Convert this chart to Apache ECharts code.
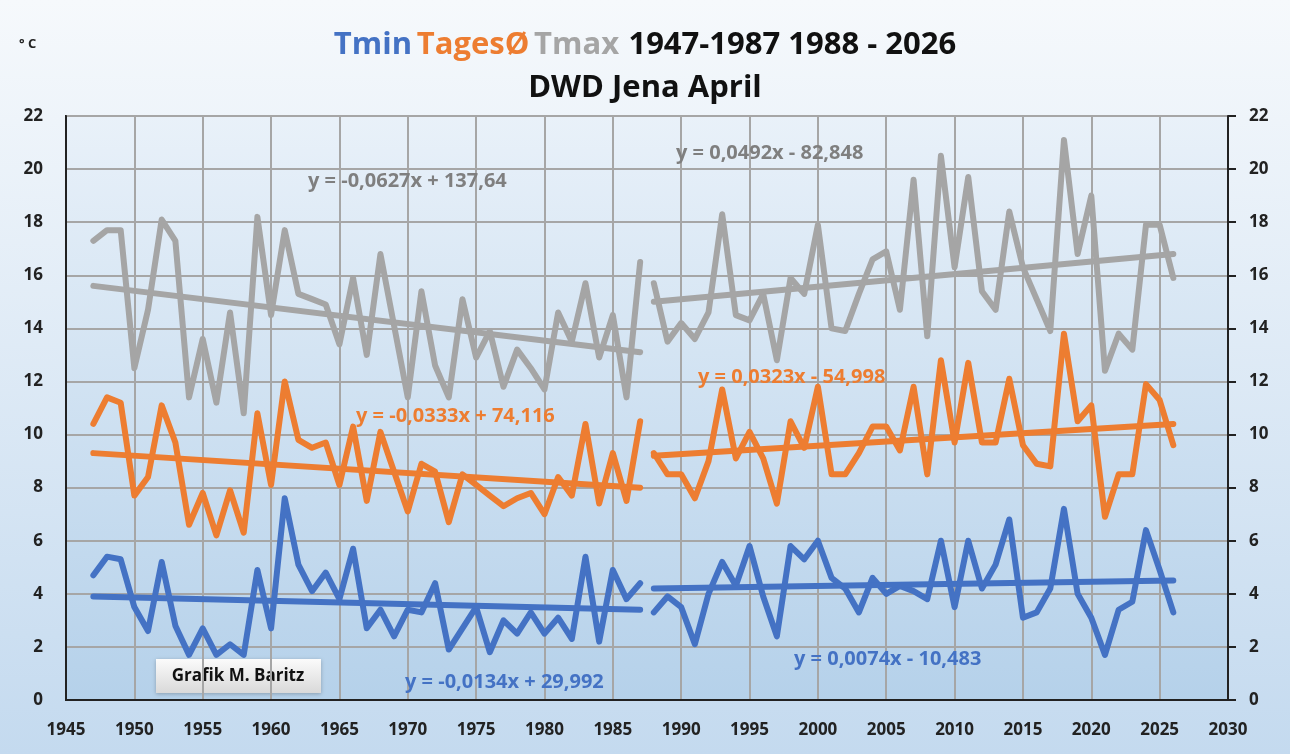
<!DOCTYPE html>
<html>
<head>
<meta charset="utf-8">
<script src="https://cdn.jsdelivr.net/npm/echarts@6/dist/echarts.min.js"></script>
<style>
  html, body { margin: 0; padding: 0; }
  #chart { width: 1290px; height: 754px; }
</style>
</head>
<body>
<div id="chart"></div>
<script>
// first years of both periods
const start1 = 1947;
const start2 = 1988;

// April values, DWD Jena
const tmin1 = [4.7, 5.4, 5.3, 3.5, 2.6, 5.2, 2.8, 1.7, 2.7, 1.7,
  2.1, 1.7, 4.9, 2.7, 7.6, 5.1, 4.1, 4.8, 3.8, 5.7,
  2.7, 3.4, 2.4, 3.4, 3.3, 4.4, 1.9, 2.7, 3.5, 1.8,
  3.0, 2.5, 3.3, 2.5, 3.1, 2.3, 5.4, 2.2, 4.9, 3.8, 4.4];
const tmin2 = [3.3, 3.9, 3.5, 2.1, 4.0, 5.2, 4.3, 5.8, 3.9, 2.4,
  5.8, 5.3, 6.0, 4.6, 4.2, 3.3, 4.6, 4.0, 4.3, 4.1,
  3.8, 6.0, 3.5, 6.0, 4.2, 5.1, 6.8, 3.1, 3.3, 4.2,
  7.2, 4.0, 3.1, 1.7, 3.4, 3.7, 6.4, 4.9, 3.3];
const tavg1 = [10.4, 11.4, 11.2, 7.7, 8.4, 11.1, 9.7, 6.6, 7.8, 6.2,
  7.9, 6.3, 10.8, 8.1, 12.0, 9.8, 9.5, 9.7, 8.1, 10.3,
  7.5, 10.1, 8.6, 7.1, 8.9, 8.6, 6.7, 8.5, 8.1, 7.7,
  7.3, 7.6, 7.8, 7.0, 8.4, 7.7, 10.4, 7.4, 9.3, 7.5, 10.5];
const tavg2 = [9.3, 8.5, 8.5, 7.6, 9.0, 11.7, 9.1, 10.1, 9.1, 7.4,
  10.5, 9.5, 11.8, 8.5, 8.5, 9.3, 10.3, 10.3, 9.4, 11.8,
  8.5, 12.8, 9.7, 12.7, 9.7, 9.7, 12.1, 9.6, 8.9, 8.8,
  13.8, 10.5, 11.1, 6.9, 8.5, 8.5, 11.9, 11.3, 9.6];
const tmax1 = [17.3, 17.7, 17.7, 12.5, 14.7, 18.1, 17.3, 11.4, 13.6, 11.2,
  14.6, 10.8, 18.2, 14.5, 17.7, 15.3, 15.1, 14.9, 13.4, 15.9,
  13.0, 16.8, 14.1, 11.4, 15.4, 12.6, 11.4, 15.1, 12.9, 13.9,
  11.8, 13.2, 12.5, 11.7, 14.6, 13.5, 15.7, 12.9, 14.5, 11.4, 16.5];
const tmax2 = [15.7, 13.5, 14.2, 13.6, 14.6, 18.3, 14.5, 14.3, 15.3, 12.8,
  15.9, 15.3, 17.9, 14.0, 13.9, 15.3, 16.6, 16.9, 14.7, 19.6,
  13.7, 20.5, 16.3, 19.7, 15.4, 14.7, 18.4, 16.3, 15.1, 13.9,
  21.1, 16.8, 19.0, 12.4, 13.8, 13.2, 17.9, 17.9, 15.9];

// trend lines, value at first and last year of each period
const tminTrend1 = [3.9, 3.4];
const tminTrend2 = [4.2, 4.5];
const tavgTrend1 = [9.3, 8.0];
const tavgTrend2 = [9.2, 10.4];
const tmaxTrend1 = [15.6, 13.1];
const tmaxTrend2 = [15.0, 16.8];

const eqTexts = {
  tmax1: "y = -0,0627x + 137,64",
  tmax2: "y = 0,0492x - 82,848",
  tavg1: "y = -0,0333x + 74,116",
  tavg2: "y = 0,0323x - 54,998",
  tmin1: "y = -0,0134x + 29,992",
  tmin2: "y = 0,0074x - 10,483"
};

const BLUE = "#4472c4", ORANGE = "#ed7d31", GRAY = "#a5a5a5";

function pairs(start, arr) {
  return arr.map((v, i) => [start + i, v]);
}
function trend(start, count, ends) {
  return [[start, ends[0]], [start + count - 1, ends[1]]];
}
function line(data, color, name) {
  return {
    name: name,
    type: "line",
    data: data,
    symbol: "none",
    animation: false,
    lineStyle: { color: color, width: 6, cap: "round", join: "round" }
  };
}

const series = [
  line(pairs(start1, tmax1), GRAY, "Tmax"),
  line(pairs(start2, tmax2), GRAY, "Tmax"),
  line(trend(start1, tmax1.length, tmaxTrend1), GRAY, "Trend"),
  line(trend(start2, tmax2.length, tmaxTrend2), GRAY, "Trend"),
  line(pairs(start1, tavg1), ORANGE, "TagesØ"),
  line(pairs(start2, tavg2), ORANGE, "TagesØ"),
  line(trend(start1, tavg1.length, tavgTrend1), ORANGE, "Trend"),
  line(trend(start2, tavg2.length, tavgTrend2), ORANGE, "Trend"),
  line(pairs(start1, tmin1), BLUE, "Tmin"),
  line(pairs(start2, tmin2), BLUE, "Tmin"),
  line(trend(start1, tmin1.length, tminTrend1), BLUE, "Trend"),
  line(trend(start2, tmin2.length, tminTrend2), BLUE, "Trend")
];

const FONT = "Open Sans";

function eq(text, color, x, y) {
  return {
    type: "text",
    left: x,
    top: y,
    z: 100,
    style: { text: text, fill: color, font: "bold 20px '" + FONT + "'" }
  };
}

const axisLabel = {
  color: "#222",
  fontSize: 17,
  fontWeight: "bold",
  fontFamily: FONT
};

const chart = echarts.init(document.getElementById("chart"));
chart.setOption({
  animation: false,
  backgroundColor: new echarts.graphic.LinearGradient(0, 0, 0, 1, [
    { offset: 0, color: "#f6f9fc" },
    { offset: 1, color: "#c4daef" }
  ]),
  textStyle: { fontFamily: FONT },
  title: [
    {
      text: "{b|Tmin} {o|TagesØ} {g|Tmax}  {k|1947-1987 1988 - 2026}",
      left: "center",
      top: 25,
      textStyle: {
        rich: {
          b: { color: BLUE, fontSize: 31, fontWeight: "bold", fontFamily: FONT },
          o: { color: ORANGE, fontSize: 31, fontWeight: "bold", fontFamily: FONT },
          g: { color: GRAY, fontSize: 31, fontWeight: "bold", fontFamily: FONT },
          k: { color: "#111", fontSize: 31, fontWeight: "bold", fontFamily: FONT }
        }
      }
    },
    {
      text: "DWD Jena April",
      left: "center",
      top: 68,
      textStyle: { color: "#111", fontSize: 31, fontWeight: "bold", fontFamily: FONT }
    },
    {
      text: "° C",
      left: 14,
      top: 33,
      textStyle: { color: "#222", fontSize: 13, fontWeight: "bold", fontFamily: FONT }
    }
  ],
  grid: {
    left: 66,
    right: 62,
    top: 116,
    bottom: 54,
    show: true,
    borderColor: "#222",
    borderWidth: 2,
    backgroundColor: new echarts.graphic.LinearGradient(0, 0, 0, 1, [
      { offset: 0, color: "#e9f1f9" },
      { offset: 1, color: "#b5d1ea" }
    ])
  },
  xAxis: {
    type: "value",
    min: 1945,
    max: 2030,
    interval: 5,
    axisLine: { lineStyle: { color: "#222", width: 2 } },
    axisTick: { show: false },
    axisLabel: Object.assign({ margin: 22, formatter: (v) => String(v) }, axisLabel),
    splitLine: { show: true, lineStyle: { color: "#a6a6a6", width: 2 } }
  },
  yAxis: [
    {
      type: "value",
      min: 0,
      max: 22,
      interval: 2,
      axisLine: { show: true, lineStyle: { color: "#222", width: 2 } },
      axisTick: { show: false },
      axisLabel: Object.assign({ margin: 23 }, axisLabel),
      splitLine: { show: true, lineStyle: { color: "#a6a6a6", width: 2 } }
    },
    {
      type: "value",
      position: "right",
      min: 0,
      max: 22,
      interval: 2,
      axisLine: { show: true, lineStyle: { color: "#222", width: 2 } },
      axisTick: { show: true, length: 8, lineStyle: { color: "#222", width: 2 } },
      axisLabel: Object.assign({ margin: 21 }, axisLabel),
      splitLine: { show: false }
    }
  ],
  series: series,
  graphic: [
    eq(eqTexts.tmax1, "#7f7f7f", 308, 171),
    eq(eqTexts.tmax2, "#7f7f7f", 676, 143),
    eq(eqTexts.tavg1, ORANGE, 356, 406),
    eq(eqTexts.tavg2, ORANGE, 698, 367),
    eq(eqTexts.tmin1, BLUE, 405, 672),
    eq(eqTexts.tmin2, BLUE, 794, 649),
    {
      type: "group",
      left: 156,
      top: 659,
      z: 100,
      children: [
        {
          type: "rect",
          shape: { x: 0, y: 0, width: 165, height: 34 },
          style: {
            fill: new echarts.graphic.LinearGradient(0, 0, 0, 1, [
              { offset: 0, color: "#fbfbfb" },
              { offset: 1, color: "#d9d9d9" }
            ]),
            shadowBlur: 4,
            shadowColor: "rgba(0,0,0,0.25)",
            shadowOffsetY: 1
          }
        },
        {
          type: "text",
          x: 82,
          y: 17,
          style: {
            text: "Grafik M. Baritz",
            fill: "#111",
            font: "bold 17px '" + FONT + "'",
            align: "center",
            verticalAlign: "middle"
          }
        }
      ]
    }
  ]
});
</script>
</body>
</html>
